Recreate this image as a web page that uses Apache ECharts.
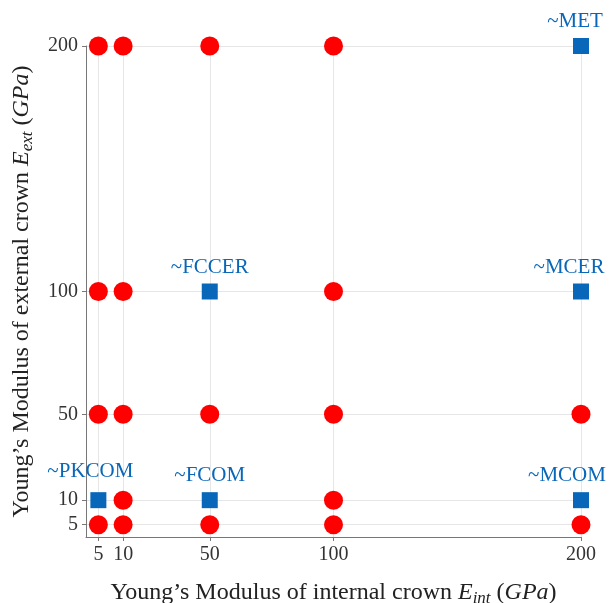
<!DOCTYPE html>
<html>
<head>
<meta charset="utf-8">
<script src="https://cdn.jsdelivr.net/npm/echarts@6/dist/echarts.min.js"></script>
<style>
  html, body { margin: 0; padding: 0; background: #fff; }
  #chart { width: 613px; height: 603px; }
</style>
</head>
<body>
<div id="chart"></div>
<script>
// Moduli studied for the internal (E_int) and external (E_ext) crowns, GPa
const modulusTicks = [5, 10, 50, 100, 200];

// Combinations evaluated in the parametric study (red dots)
const studyInt = [5, 10, 50, 100, 5, 10, 100, 5, 10, 50, 100, 200, 10, 100, 5, 10, 50, 100, 200];
const studyExt = [200, 200, 200, 200, 100, 100, 100, 50, 50, 50, 50, 50, 10, 10, 5, 5, 5, 5, 5];

// Combinations matching real crown materials (blue squares)
const materialNames = ['~MET', '~FCCER', '~MCER', '~PKCOM', '~FCOM', '~MCOM'];
const materialInt = [200, 50, 200, 5, 50, 200];
const materialExt = [200, 100, 100, 10, 10, 10];

// The 10 GPa level is drawn a little further out so its markers clear the 5 GPa row
const axisPosition = { 5: 5, 10: 15, 50: 50, 100: 100, 200: 200 };
const tickPositions = modulusTicks.map(v => axisPosition[v]);
const tickText = {};
modulusTicks.forEach(v => { tickText[axisPosition[v]] = String(v); });

const SERIF = '"Liberation Serif", "DejaVu Serif", serif';
const BLUE = '#0867b9';
const RED = '#ff0000';

// label nudges so names near the right edge stay on the canvas
const labelShift = { '~MET': [-6, 0], '~MCER': [-12, 0], '~MCOM': [-14, 0], '~PKCOM': [-8, -4] };

function makeAxis(nameRich, nameGap, rotate) {
  return {
    type: 'value',
    min: 0,
    max: 200,
    name: nameRich,
    nameLocation: 'middle',
    nameGap: nameGap,
    nameRotate: rotate,
    nameTextStyle: {
      color: '#222',
      fontFamily: SERIF,
      fontSize: 24,
      rich: {
        a: { fontFamily: SERIF, fontSize: 24, color: '#222' },
        i: { fontFamily: SERIF, fontSize: 24, fontStyle: 'italic', color: '#222' },
        sub: { fontFamily: SERIF, fontSize: 17, fontStyle: 'italic', color: '#222', padding: [11, 0, 0, 0] }
      }
    },
    axisLine: { show: true, onZero: false, lineStyle: { color: '#777', width: 1 } },
    axisTick: { show: true, customValues: tickPositions, length: 4, lineStyle: { color: '#777' } },
    axisLabel: {
      customValues: tickPositions,
      formatter: v => tickText[v] || '',
      color: '#333',
      fontFamily: SERIF,
      fontSize: 20,
      margin: 8
    },
    splitLine: { show: false }
  };
}

const gridLinesX = tickPositions.map(v => ({ xAxis: v }));
const gridLinesY = tickPositions.map(v => ({ yAxis: v }));

const option = {
  backgroundColor: '#fff',
  animation: false,
  grid: { left: 86, right: 32, top: 46, bottom: 66, containLabel: false, outerBoundsMode: 'none' },
  xAxis: makeAxis('{a|Young\u2019s Modulus of internal crown }{i|E}{sub|int}{a| (}{i|GPa}{a|)}', 42, 0),
  yAxis: makeAxis('{a|Young\u2019s Modulus of external crown }{i|E}{sub|ext}{a| (}{i|GPa}{a|)}', 50, 90),
  series: [
    {
      // light grid at each studied modulus, kept beneath the markers
      type: 'line',
      z: 0,
      data: [],
      silent: true,
      markLine: {
        symbol: 'none',
        silent: true,
        z: 0,
        label: { show: false },
        lineStyle: { color: '#e6e6e6', width: 1, type: 'solid' },
        data: gridLinesX.concat(gridLinesY)
      }
    },
    {
      name: 'study',
      type: 'scatter',
      z: 3,
      symbol: 'circle',
      symbolSize: 19,
      clip: false,
      itemStyle: { color: RED, opacity: 1 },
      data: studyInt.map((x, i) => [axisPosition[x], axisPosition[studyExt[i]]])
    },
    {
      name: 'materials',
      type: 'scatter',
      z: 3,
      symbol: 'rect',
      symbolSize: 16,
      clip: false,
      itemStyle: { color: BLUE, opacity: 1 },
      label: {
        show: true,
        position: 'top',
        distance: 6,
        color: BLUE,
        fontFamily: SERIF,
        fontSize: 21,
        formatter: p => p.data.name
      },
      data: materialNames.map((n, i) => ({
        name: n,
        value: [axisPosition[materialInt[i]], axisPosition[materialExt[i]]],
        label: { offset: labelShift[n] || [0, 0] }
      }))
    }
  ]
};

const chart = echarts.init(document.getElementById('chart'), null, { renderer: 'canvas' });
chart.setOption(option);
</script>
</body>
</html>
